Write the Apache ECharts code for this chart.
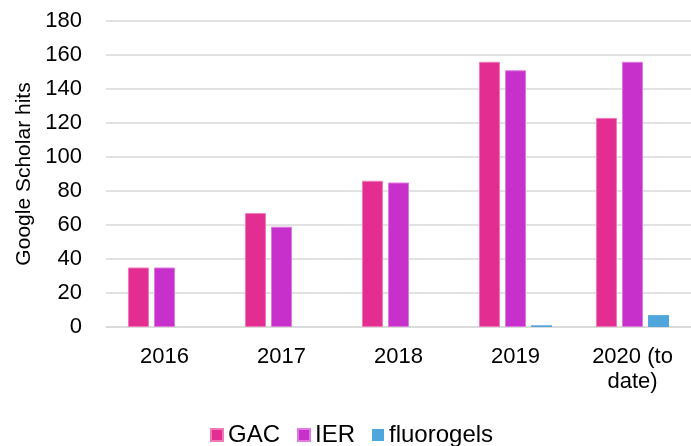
<!DOCTYPE html>
<html>
<head>
<meta charset="utf-8">
<script src="https://cdn.jsdelivr.net/npm/echarts@6/dist/echarts.min.js"></script>
<style>
  html, body { margin: 0; padding: 0; background: #fff; }
  #chart { width: 691px; height: 446px; }
</style>
</head>
<body>
<div id="chart"></div>
<script>
const categories = ["2016", "2017", "2018", "2019", "2020 (to\ndate)"];
const gacValues = [35, 67, 86, 156, 123];
const ierValues = [35, 59, 85, 151, 156];
const fluorogelValues = [0, 0, 0, 1, 7];

const font = "Liberation Sans, Arial, sans-serif";

function barSeries(name, data, color, border, bw) {
  return {
    name: name,
    type: "bar",
    data: data,
    barWidth: 21,
    barGap: "24%",
    barCategoryGap: "38%",
    itemStyle: { color: color, borderColor: border, borderWidth: bw }
  };
}

const chart = echarts.init(document.getElementById("chart"));
chart.setOption({
  animation: false,
  textStyle: { fontFamily: font },
  grid: { left: 106, top: 21, width: 590, height: 306 },
  legend: {
    top: 423,
    left: 210,
    padding: 0,
    itemWidth: 12,
    itemHeight: 12,
    itemGap: 17,
    icon: "rect",
    textStyle: { fontSize: 24, color: "#000", fontFamily: font },
    data: ["GAC", "IER", "fluorogels"]
  },
  xAxis: {
    type: "category",
    data: categories,
    axisLine: { lineStyle: { color: "#d9d9d9", width: 1.5 } },
    axisTick: { show: false },
    axisLabel: { fontSize: 22, color: "#000", margin: 17, lineHeight: 25, fontFamily: font }
  },
  yAxis: {
    type: "value",
    min: 0,
    max: 180,
    interval: 20,
    name: "Google Scholar hits",
    nameLocation: "middle",
    nameGap: 69,
    nameTextStyle: { fontSize: 21, color: "#000", fontFamily: font },
    axisLine: { show: false },
    axisTick: { show: false },
    axisLabel: { fontSize: 22, color: "#000", margin: 24, fontFamily: font },
    splitLine: { lineStyle: { color: "#d9d9d9", width: 1.5 } }
  },
  series: [
    barSeries("GAC", gacValues, "#E32D91", "#f07ab8", 1),
    barSeries("IER", ierValues, "#C830CC", "#dc7ade", 1),
    barSeries("fluorogels", fluorogelValues, "#4EA6DC", "#8cc6ea", 0)
  ]
});
</script>
</body>
</html>
